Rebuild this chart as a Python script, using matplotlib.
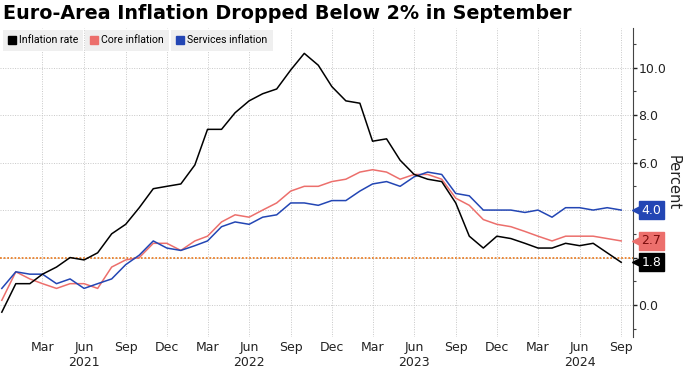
import numpy as np
import pandas as pd
import matplotlib
matplotlib.use('Agg')
import matplotlib.pyplot as plt
import matplotlib.dates as mdates
import matplotlib.transforms as mtransforms
from matplotlib.ticker import MultipleLocator, FuncFormatter, FixedLocator
from matplotlib.lines import Line2D

# monthly data, Dec 2020 .. Sep 2024
dates = pd.date_range('2020-12-01', periods=46, freq='MS')

inflation = [-0.3, 0.9, 0.9, 1.3, 1.6, 2.0, 1.9, 2.2, 3.0, 3.4, 4.1, 4.9,
             5.0, 5.1, 5.9, 7.4, 7.4, 8.1, 8.6, 8.9, 9.1, 9.9, 10.6, 10.1,
             9.2, 8.6, 8.5, 6.9, 7.0, 6.1, 5.5, 5.3, 5.2, 4.3, 2.9, 2.4,
             2.9, 2.8, 2.6, 2.4, 2.4, 2.6, 2.5, 2.6, 2.2, 1.8]
core = [0.2, 1.4, 1.1, 0.9, 0.7, 0.9, 0.9, 0.7, 1.6, 1.9, 2.0, 2.6,
        2.6, 2.3, 2.7, 2.9, 3.5, 3.8, 3.7, 4.0, 4.3, 4.8, 5.0, 5.0,
        5.2, 5.3, 5.6, 5.7, 5.6, 5.3, 5.5, 5.5, 5.3, 4.5, 4.2, 3.6,
        3.4, 3.3, 3.1, 2.9, 2.7, 2.9, 2.9, 2.9, 2.8, 2.7]
services = [0.7, 1.4, 1.3, 1.3, 0.9, 1.1, 0.7, 0.9, 1.1, 1.7, 2.1, 2.7,
            2.4, 2.3, 2.5, 2.7, 3.3, 3.5, 3.4, 3.7, 3.8, 4.3, 4.3, 4.2,
            4.4, 4.4, 4.8, 5.1, 5.2, 5.0, 5.4, 5.6, 5.5, 4.7, 4.6, 4.0,
            4.0, 4.0, 3.9, 4.0, 3.7, 4.1, 4.1, 4.0, 4.1, 4.0]
target = 2.0
tick_dates = pd.date_range('2021-03-01', '2024-09-01', freq='3MS')

c_infl = 'black'
c_core = '#ec6f6c'
c_serv = '#2346b4'
c_target = '#e8812c'

fig = plt.figure(figsize=(6.88, 3.68), dpi=100)
ax = fig.add_axes([0.0, 0.084, 0.92, 0.84])

ax.plot(dates, inflation, color=c_infl, lw=1.1, zorder=4)
ax.plot(dates, core, color=c_core, lw=1.1, zorder=3)
ax.plot(dates, services, color=c_serv, lw=1.1, zorder=3)
ax.axhline(target, color=c_target, lw=1.3, ls=(0, (1, 1)), zorder=2)

ax.set_ylim(-1.35, 11.67)
ax.set_xlim(dates[0] - pd.Timedelta(days=4), dates[-1] + pd.Timedelta(days=26))

# axes styling
for s in ['left', 'top', 'bottom']:
    ax.spines[s].set_visible(False)
ax.spines['right'].set_color('#444444')
ax.yaxis.tick_right()
ax.yaxis.set_major_locator(MultipleLocator(2))
ax.yaxis.set_minor_locator(MultipleLocator(1))
# 4.0 sits right under the services end label, so leave it blank
ax.yaxis.set_major_formatter(FuncFormatter(lambda v, p: '' if abs(v - 4) < 1e-9 else '%.1f' % v))
ax.tick_params(axis='y', which='major', length=3, width=1, pad=1, labelsize=9, colors='#222222')
ax.tick_params(axis='y', which='minor', length=2, width=0.8, colors='#444444')

ax.xaxis.set_major_locator(FixedLocator(mdates.date2num(tick_dates)))
def fmt_month(v, p):
    d = mdates.num2date(v)
    lab = d.strftime('%b')
    if d.month == 6:
        lab += '\n' + str(d.year)
    return lab
ax.xaxis.set_major_formatter(FuncFormatter(fmt_month))
ax.tick_params(axis='x', length=0, pad=3, labelsize=9, colors='#222222')

ax.grid(True, which='major', color='#c8c8c8', lw=0.7, ls=(0, (1, 1.5)))

ax.yaxis.set_label_position('right')
ax.set_ylabel('Percent', rotation=-90, fontsize=10.5, labelpad=10, color='#222222')

# end-value labels on the right axis
trans = mtransforms.blended_transform_factory(ax.transAxes, ax.transData)
arrow_trans = trans + mtransforms.ScaledTranslation(4 / 100, 0, fig.dpi_scale_trans)
labels = [(services[-1], c_serv, 'white'),
          (core[-1], c_core, '#7a0d0d'),
          (inflation[-1], c_infl, 'white')]
for val, fc, tc in labels:
    ax.plot([1.0], [val], transform=arrow_trans, marker='<', markersize=7, color=fc,
            mec=fc, clip_on=False, zorder=9, ls='')
    ax.annotate('%.1f' % val, xy=(1.0, val), xycoords=trans,
                xytext=(6, 0), textcoords='offset points', va='center', ha='left',
                fontsize=9, color=tc, zorder=10, annotation_clip=False,
                bbox=dict(boxstyle='square,pad=0.2', fc=fc, ec=fc))

# legend: one grey box per series
names = ['Inflation rate', 'Core inflation', 'Services inflation']
colors = [c_infl, c_core, c_serv]
x0 = 3
for name, col in zip(names, colors):
    h = Line2D([], [], ls='', marker='s', markersize=5.5, color=col)
    leg = ax.legend([h], [name], loc='upper left',
                    bbox_to_anchor=(x0, 368 - 30),
                    bbox_transform=mtransforms.IdentityTransform(),
                    prop={'family': 'Roboto', 'size': 7.6},
                    frameon=True, fancybox=False, facecolor='#efefef',
                    edgecolor='none', handlelength=0.7, handletextpad=0.3,
                    borderpad=0.5, borderaxespad=0, framealpha=1)
    ax.add_artist(leg)
    fig.canvas.draw()
    x0 = leg.get_window_extent().x1 + 2

fig.text(0.005, 0.99, 'Euro-Area Inflation Dropped Below 2% in September',
         fontsize=13.8, fontweight='bold', va='top', ha='left')

fig.savefig('out.png', dpi=100)
